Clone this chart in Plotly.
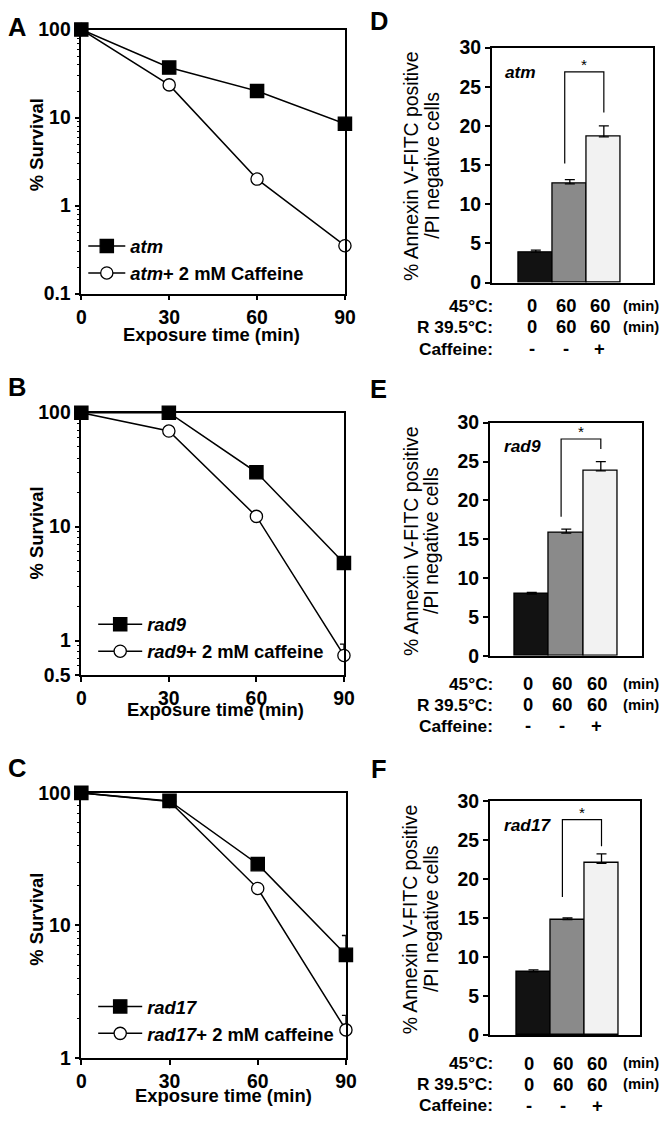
import math
import plotly.graph_objects as go

W, H = 672, 1127
FONT = "Liberation Sans, Arial, sans-serif"

# the photographed page comes out slightly shrunk; place everything so it lands
# on the intended pixel positions of the reference
SX, CX, SY, CY = 0.985, 4.0, 0.98, 10.5
FS = 1.02  # font/marker scale to compensate the shrink


def px(x):
    return ((x - CX) / SX) / W


def py(y):
    return 1 - ((y - CY) / SY) / H


# ---------------- data ----------------
time_min = [0, 30, 60, 90]

atm = [100, 37, 20, 8.5]
atm_caf = [100, 23.5, 2.0, 0.35]

rad9 = [100, 100, 30, 4.8]
rad9_caf = [100, 69, 12.3, 0.74]
rad9_caf_err = [0, 0, 0, 0.19]

rad17 = [100, 87, 29, 6.0]
rad17_err = [17, 0, 0, 2.4]
rad17_caf = [100, 86, 19, 1.63]
rad17_caf_err = [0, 0, 0, 0.47]

conditions = [0, 1, 2]
bar_colors = ["#121212", "#8a8a8a", "#f2f2f2"]

annexin_atm = [3.9, 12.6, 18.6]
annexin_atm_err = [0.25, 0.55, 1.4]
annexin_rad9 = [7.95, 15.8, 23.8]
annexin_rad9_err = [0.2, 0.5, 1.2]
annexin_rad17 = [8.1, 14.8, 22.0]
annexin_rad17_err = [0.25, 0.2, 1.2]

# significance brackets: (left leg bottom, top, right leg bottom)
bracket_atm = [15.2, 26.9, 21.7]
bracket_rad9 = [17.9, 27.9, 26.6]
bracket_rad17 = [17.7, 27.6, 24.2]

row_labels = ["45°C:", "R 39.5°C:", "Caffeine:"]
heat_min = ["0", "60", "60"]
recovery_min = ["0", "60", "60"]
caffeine = ["-", "-", "+"]


def bold(size):
    return dict(family=FONT, size=round(size * FS, 1), color="black", weight="bold")


def plain(size):
    return dict(family=FONT, size=round(size * FS, 1), color="black")


fig = go.Figure()

line_panels = [
    dict(ax="", letter="A", box=(81, 347, 29, 293), yr=(0.1, 100),
         yt=[0.1, 1, 10, 100], ytt=["0.1", "1", "10", "100"],
         s1=(atm, None, "<i>atm</i>"),
         s2=(atm_caf, None, "<i>atm</i>+ 2 mM Caffeine"),
         leg=(83, 227), legw=37, lname="legend",
         ytitle=(36, 144), xtitle=(212, 334), letter_xy=(16, 26)),
    dict(ax="2", letter="B", box=(81, 346, 412, 674), yr=(0.5, 100),
         yt=[0.5, 1, 10, 100], ytt=["0.5", "1", "10", "100"],
         s1=(rad9, None, "<i>rad9</i>"),
         s2=(rad9_caf, rad9_caf_err, "<i>rad9</i>+ 2 mM caffeine"),
         leg=(93, 605), legw=44, lname="legend2",
         ytitle=(36, 532), xtitle=(216, 709), letter_xy=(16, 386)),
    dict(ax="3", letter="C", box=(81, 348, 792, 1057), yr=(1, 100),
         yt=[1, 10, 100], ytt=["1", "10", "100"],
         s1=(rad17, rad17_err, "<i>rad17</i>"),
         s2=(rad17_caf, rad17_caf_err, "<i>rad17</i>+ 2 mM caffeine"),
         leg=(93, 987), legw=44, lname="legend3",
         ytitle=(36, 918), xtitle=(224, 1094), letter_xy=(16, 767)),
]

annotations = []
shapes = []

for p in line_panels:
    ax = p["ax"]
    x0, x1, y0, y1 = p["box"]
    for (vals, err, name), sym, fillc in [(p["s2"], "circle", "white"), (p["s1"], "square", "black")]:
        ey = None
        if err is not None:
            ey = dict(type="data", array=err, arrayminus=[0] * len(err), symmetric=False,
                      color="black", thickness=1.3, width=4)
        fig.add_trace(go.Scatter(
            x=time_min, y=vals, mode="lines+markers", name=name,
            xaxis="x" + ax, yaxis="y" + ax, legend=p["lname"],
            line=dict(color="black", width=1.5),
            marker=dict(symbol=sym, size=(13 if sym == "square" else 12) * FS, color=fillc,
                        line=dict(color="black", width=1.3)),
            error_y=ey, cliponaxis=False,
        ))
    lo, hi = p["yr"]
    minor_vals = []
    for k in range(-1, 2):
        for m in range(2, 10):
            v = m * 10 ** k
            if lo < v < hi:
                minor_vals.append(v)
    fig.layout["xaxis" + ax] = dict(
        domain=[px(x0), px(x1)], anchor="y" + ax, range=[0, 90],
        tickvals=time_min, ticks="outside", ticklen=5, tickwidth=1.5, tickcolor="black",
        showline=True, linecolor="black", linewidth=1.5, mirror=True,
        showgrid=False, zeroline=False, tickfont=bold(19),
    )
    fig.layout["yaxis" + ax] = dict(
        domain=[py(y1), py(y0)], anchor="x" + ax, type="log",
        range=[math.log10(lo), math.log10(hi)],
        tickvals=p["yt"], ticktext=p["ytt"], ticks="outside", ticklen=5, tickwidth=1.5,
        tickcolor="black",
        minor=dict(tickvals=minor_vals, ticks="outside", ticklen=3, tickwidth=1,
                   tickcolor="black", showgrid=False),
        showline=True, linecolor="black", linewidth=1.5, mirror=True,
        showgrid=False, zeroline=False, tickfont=bold(19),
    )
    lx, ly = p["leg"]
    fig.layout[p["lname"]] = dict(
        x=px(lx), y=py(ly), xanchor="left", yanchor="top",
        bgcolor="rgba(0,0,0,0)", borderwidth=0, traceorder="reversed",
        itemwidth=p["legw"], tracegroupgap=0, font=bold(18),
    )
    tx, ty = p["ytitle"]
    annotations.append(dict(text="% Survival", x=px(tx), y=py(ty), xref="paper", yref="paper",
                            xanchor="center", yanchor="middle", textangle=-90,
                            showarrow=False, font=bold(18)))
    tx, ty = p["xtitle"]
    annotations.append(dict(text="Exposure time (min)", x=px(tx), y=py(ty),
                            xref="paper", yref="paper", xanchor="center", yanchor="middle",
                            showarrow=False, font=bold(18)))
    tx, ty = p["letter_xy"]
    annotations.append(dict(text=p["letter"], x=px(tx), y=py(ty), xref="paper", yref="paper",
                            xanchor="center", yanchor="middle", showarrow=False, font=bold(25)))

bar_panels = [
    dict(ax="4", letter="D", box=(495, 658, 47, 282), xr=(-1.30, 3.45), vals=annexin_atm,
         err=annexin_atm_err, br=bracket_atm, gene="atm", rows=(305, 326, 348),
         gene_xy=(506, 71), letter_xy=(381, 20), ytitle_y=165),
    dict(ax="5", letter="E", box=(493, 647, 422, 655), xr=(-1.22, 3.2), vals=annexin_rad9,
         err=annexin_rad9_err, br=bracket_rad9, gene="rad9", rows=(683, 704, 725),
         gene_xy=(505, 445), letter_xy=(381, 388), ytitle_y=540),
    dict(ax="6", letter="F", box=(493, 645, 800, 1034), xr=(-1.29, 3.14), vals=annexin_rad17,
         err=annexin_rad17_err, br=bracket_rad17, gene="rad17", rows=(1062, 1083, 1104),
         gene_xy=(505, 824), letter_xy=(381, 768), ytitle_y=918),
]

for p in bar_panels:
    ax = p["ax"]
    x0, x1, y0, y1 = p["box"]
    fig.add_trace(go.Bar(
        x=conditions, y=p["vals"], width=1, xaxis="x" + ax, yaxis="y" + ax, showlegend=False,
        marker=dict(color=bar_colors, line=dict(color="black", width=1.3)),
        error_y=dict(type="data", array=p["err"], arrayminus=[0, 0, 0], symmetric=False,
                     color="black", thickness=1.3, width=5),
    ))
    fig.layout["xaxis" + ax] = dict(
        domain=[px(x0), px(x1)], anchor="y" + ax, range=list(p["xr"]),
        showticklabels=False, ticks="", showline=True, linecolor="black", linewidth=1.5,
        mirror=True, showgrid=False, zeroline=False,
    )
    fig.layout["yaxis" + ax] = dict(
        domain=[py(y1), py(y0)], anchor="x" + ax, range=[0, 30],
        tickvals=[0, 5, 10, 15, 20, 25, 30],
        ticks="outside", ticklen=5, tickwidth=1.5, tickcolor="black",
        showline=True, linecolor="black", linewidth=1.5, mirror=True,
        showgrid=False, zeroline=False, tickfont=bold(19),
    )
    lb, top, rb = p["br"]
    xl, xr = conditions[1] - 0.15, conditions[2]
    shapes.append(dict(type="path", xref="x" + ax, yref="y" + ax,
                       path=f"M {xl},{lb} L {xl},{top} L {xr},{top} L {xr},{rb}",
                       line=dict(color="black", width=1.2)))
    annotations.append(dict(text="*", x=(xl + xr) / 2, y=top, xref="x" + ax, yref="y" + ax,
                            xanchor="center", yanchor="bottom", showarrow=False, yshift=-3,
                            font=plain(15)))
    gx, gy = p["gene_xy"]
    annotations.append(dict(text=f"<i>{p['gene']}</i>", x=px(gx), y=py(gy), xref="paper",
                            yref="paper", xanchor="left", yanchor="middle", showarrow=False,
                            font=bold(17)))
    for lx, txt in [(413, "% Annexin V-FITC positive"), (434, "/PI negative cells")]:
        annotations.append(dict(text=txt, x=px(lx), y=py(p["ytitle_y"]), xref="paper",
                                yref="paper", xanchor="center", yanchor="middle",
                                textangle=-90, showarrow=False, font=plain(19)))
    lx, ly = p["letter_xy"]
    annotations.append(dict(text=p["letter"], x=px(lx), y=py(ly), xref="paper", yref="paper",
                            xanchor="center", yanchor="middle", showarrow=False, font=bold(25)))
    rows = [heat_min, recovery_min, caffeine]
    for i, ry in enumerate(p["rows"]):
        annotations.append(dict(text=row_labels[i], x=px(498), y=py(ry), xref="paper", yref="paper",
                                xanchor="right", yanchor="middle", showarrow=False, font=bold(17)))
        for c, txt in zip(conditions, rows[i]):
            annotations.append(dict(text=txt, x=c - 0.12, y=py(ry), xref="x" + ax, yref="paper",
                                    xanchor="center", yanchor="middle", showarrow=False,
                                    font=bold(18)))
        if i < 2:
            annotations.append(dict(text="(min)", x=px(646), y=py(ry), xref="paper", yref="paper",
                                    xanchor="center", yanchor="middle", showarrow=False,
                                    font=bold(14.5)))

fig.update_layout(
    width=W, height=H, margin=dict(l=0, r=0, t=0, b=0),
    paper_bgcolor="white", plot_bgcolor="white",
    annotations=annotations, shapes=shapes,
    font=dict(family=FONT, color="black"),
    barmode="group", bargap=0,
)

fig.write_html("out.html", config={"displayModeBar": False},
               post_script="document.body.style.margin='0px';")
